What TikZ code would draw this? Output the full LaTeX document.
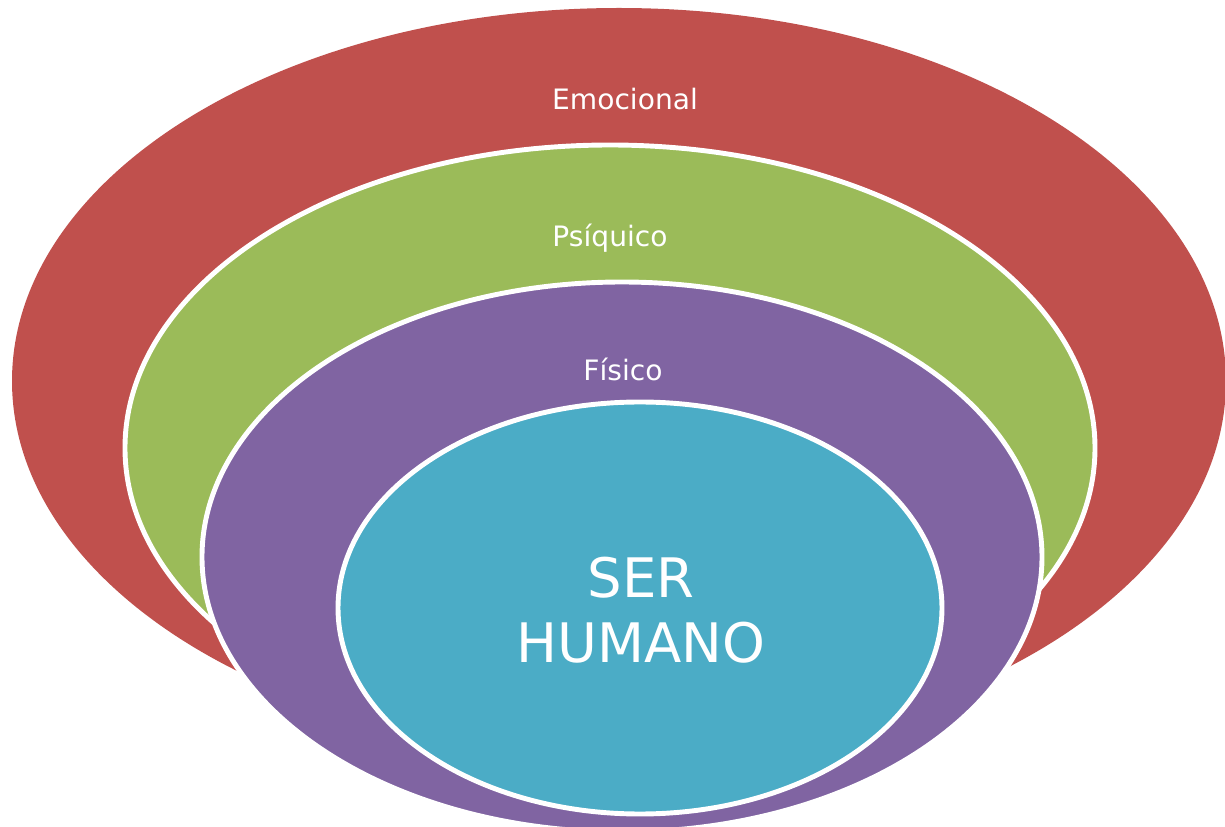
\documentclass[tikz,border=0pt]{standalone}
\usepackage{fontspec}
\setmainfont{DejaVu Sans}
\usepackage{tikz}
\usetikzlibrary{positioning}

\definecolor{rojo}{HTML}{C0504D}
\definecolor{verde}{HTML}{9BBB59}
\definecolor{morado}{HTML}{8064A2}
\definecolor{turquesa}{HTML}{4BACC6}

\tikzset{
  capa/.style={draw=white, line width=2.8pt},
  etiqueta/.style={text=white, font=\fontsize{16}{19}\selectfont, inner sep=0pt}
}

\begin{document}
\begin{tikzpicture}[x=0.02cm, y=-0.02cm]
                % Marco del dibujo
                \useasboundingbox (0,0) rectangle (1225,827);
                \clip (0,0) rectangle (1225,827);

                % Capa emocional (exterior)
                \fill[rojo] (619,381) ellipse [x radius=607, y radius=373];

                % Capa psíquica
                \filldraw[capa, fill=verde] (610,448) ellipse [x radius=485, y radius=303];

                % Capa física
                \filldraw[capa, fill=morado] (622,557) ellipse [x radius=420, y radius=275];

                % Núcleo: el ser humano
                \filldraw[capa, fill=turquesa] (640,608) ellipse [x radius=302, y radius=206];

                % Rótulos de las capas
                \node[etiqueta] (emocional) at (625,99) {Emocional};
                \node[etiqueta] (psiquico) at (610,238) {Psíquico};
                \node[etiqueta] (fisico) at (623,369) {Físico};
                \node[etiqueta, font=\fontsize{31}{37}\selectfont, align=center] (ser) at (641,610) {SER\\HUMANO};
            \end{tikzpicture}
\end{document}
